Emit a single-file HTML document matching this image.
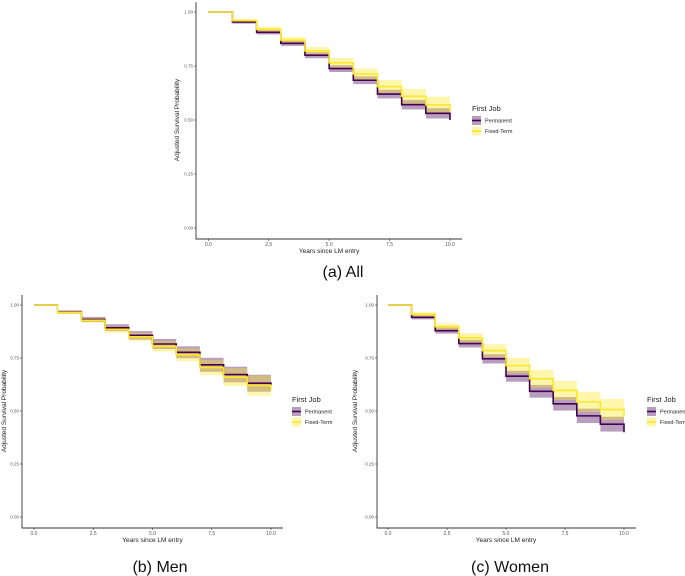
<!DOCTYPE html>
<html><head><meta charset="utf-8">
<style>
html,body{margin:0;padding:0;background:#fff;}
svg{display:block;font-family:"Liberation Sans",sans-serif;}
.cap{font-size:16px;fill:#111;}
</style></head>
<body>
<svg id="chart" width="685" height="576" viewBox="0 0 685 576" xmlns="http://www.w3.org/2000/svg">
<text class="cap" x="343" y="277" text-anchor="middle">(a) All</text>
<text class="cap" x="160" y="572" text-anchor="middle">(b) Men</text>
<text class="cap" x="510" y="572" text-anchor="middle">(c) Women</text>
</svg>
<script>
const years = [0,1,2,3,4,5,6,7,8,9,10];
const xTicks = [0,2.5,5,7.5,10];
const xTickLabels = ["0.0","2.5","5.0","7.5","10.0"];
const yTicks = [0,0.25,0.5,0.75,1];
const yTickLabels = ["0.00","0.25","0.50","0.75","1.00"];
const seriesNames = ["Permanent","Fixed-Term"];
// values per interval [0-1,1-2,...,9-10], plus end value at 10
const allPerm = [1,0.954,0.906,0.855,0.80,0.738,0.684,0.62,0.571,0.531,0.50];
const allFixed = [1,0.96,0.92,0.87,0.82,0.765,0.713,0.655,0.61,0.57,0.54];
const allPermCI = [0,0.008,0.01,0.012,0.014,0.016,0.018,0.02,0.022,0.024,0.024];
const allFixedCI = [0,0.008,0.012,0.015,0.018,0.022,0.026,0.03,0.034,0.038,0.038];
const menPerm = [1,0.967,0.932,0.893,0.857,0.816,0.777,0.718,0.672,0.631,0.625];
const menFixed = [1,0.965,0.928,0.885,0.85,0.805,0.765,0.705,0.66,0.62,0.60];
const menPermCI = [0,0.008,0.012,0.016,0.02,0.024,0.028,0.033,0.037,0.04,0.04];
const menFixedCI = [0,0.008,0.012,0.016,0.02,0.025,0.03,0.036,0.042,0.048,0.048];
const womenPerm = [1,0.942,0.879,0.818,0.746,0.664,0.593,0.534,0.477,0.438,0.40];
const womenFixed = [1,0.956,0.898,0.845,0.785,0.714,0.652,0.597,0.543,0.507,0.475];
const womenPermCI = [0,0.01,0.014,0.018,0.022,0.026,0.03,0.032,0.034,0.035,0.035];
const womenFixedCI = [0,0.01,0.015,0.022,0.03,0.037,0.042,0.045,0.048,0.05,0.05];

const NS="http://www.w3.org/2000/svg";
const svg=document.getElementById('chart');
function mk(tag,attrs,parent){const e=document.createElementNS(NS,tag);for(const k in attrs)e.setAttribute(k,attrs[k]);(parent||svg).appendChild(e);return e;}

function panel(cfg){
  const g=mk('g',{});
  
  
  const sx=v=>cfg.x0+(cfg.x1-cfg.x0)*v/10;
  const sy=v=>cfg.y0+(cfg.y1-cfg.y0)*(1-v);
  const series=[{v:cfg.perm,ci:cfg.permCI,line:'#440154',fill:'rgba(68,1,84,0.38)'},{v:cfg.fixed,ci:cfg.fixedCI,line:'#FDE725',fill:'rgba(253,231,37,0.38)'}];
  series.forEach((s,si)=>{
    for(let i=1;i<10;i++){
      const r=mk('rect',{x:sx(years[i]),y:sy(s.v[i]+s.ci[i]),width:sx(years[i+1])-sx(years[i]),height:sy(s.v[i]-s.ci[i])-sy(s.v[i]+s.ci[i]),fill:s.fill},g);
      
      
    }
  });
  [0,1].forEach(si=>{
    const s=series[si];
    let d='M'+sx(0)+','+sy(s.v[0]);
    for(let i=0;i<10;i++){d+=' H'+sx(years[i+1])+' V'+sy(s.v[i+1]);}
    const p=mk('path',{d:d,fill:'none',stroke:s.line,'stroke-width':1.6},g);
    
    
  });
  const ax=mk('path',{d:'M'+cfg.ax+','+(cfg.y0-10)+' V'+cfg.axY+' H'+(cfg.x1+12),fill:'none',stroke:'#333','stroke-width':0.9},g);
  
  
  yTicks.forEach((t,i)=>{
    mk('line',{x1:cfg.ax-2,x2:cfg.ax,y1:sy(t),y2:sy(t),stroke:'#333','stroke-width':0.6},g);
    const tx=mk('text',{x:cfg.ax-3,y:sy(t)+1.6,'text-anchor':'end','font-size':4.5,fill:'#555'},g);
    tx.textContent=yTickLabels[i];
    
    
  });
  xTicks.forEach((t,i)=>{
    mk('line',{x1:sx(t),x2:sx(t),y1:cfg.axY,y2:cfg.axY+2,stroke:'#333','stroke-width':0.6},g);
    const tx=mk('text',{x:sx(t),y:cfg.axY+7,'text-anchor':'middle','font-size':5,fill:'#555'},g);
    tx.textContent=xTickLabels[i];
    
    
  });
  const xt=mk('text',{x:(cfg.x0+cfg.x1)/2,y:cfg.axY+14,'text-anchor':'middle','font-size':6.5,fill:'#222'},g);
  xt.textContent='Years since LM entry';
  
  
  const ym=(cfg.y0+cfg.y1)/2;
  const yt=mk('text',{x:cfg.ytx,y:ym,'text-anchor':'middle','font-size':6.5,fill:'#222',transform:'rotate(-90 '+cfg.ytx+' '+ym+')'},g);
  yt.textContent='Adjusted Survival Probability';
  
  
  const lt=mk('text',{x:cfg.lx,y:cfg.ly,'font-size':7.5,fill:'#222'},g);
  lt.textContent='First Job';
  
  
  series.forEach((s,i)=>{
    const ky=cfg.ly+5+i*10.5;
    mk('rect',{x:cfg.lx,y:ky,width:9,height:9,fill:s.fill},g);
    mk('line',{x1:cfg.lx,x2:cfg.lx+9,y1:ky+4.5,y2:ky+4.5,stroke:s.line,'stroke-width':1.6},g);
    const lb=mk('text',{x:cfg.lx+13,y:ky+6.3,'font-size':5.5,fill:'#222'},g);
    lb.textContent=seriesNames[i];
    
    
  });
}
panel({name:'panel-all',x0:208.3,x1:450,y0:12,y1:228,ax:196,axY:239,ytx:179,lx:472,ly:111,perm:allPerm,fixed:allFixed,permCI:allPermCI,fixedCI:allFixedCI});
panel({name:'panel-men',x0:34,x1:271,y0:305,y1:517,ax:22,axY:528,ytx:6,lx:292,ly:402,perm:menPerm,fixed:menFixed,permCI:menPermCI,fixedCI:menFixedCI});
panel({name:'panel-women',x0:388,x1:624,y0:305,y1:517,ax:377,axY:528,ytx:357,lx:647,ly:402,perm:womenPerm,fixed:womenFixed,permCI:womenPermCI,fixedCI:womenFixedCI});
</script>
</body></html>
